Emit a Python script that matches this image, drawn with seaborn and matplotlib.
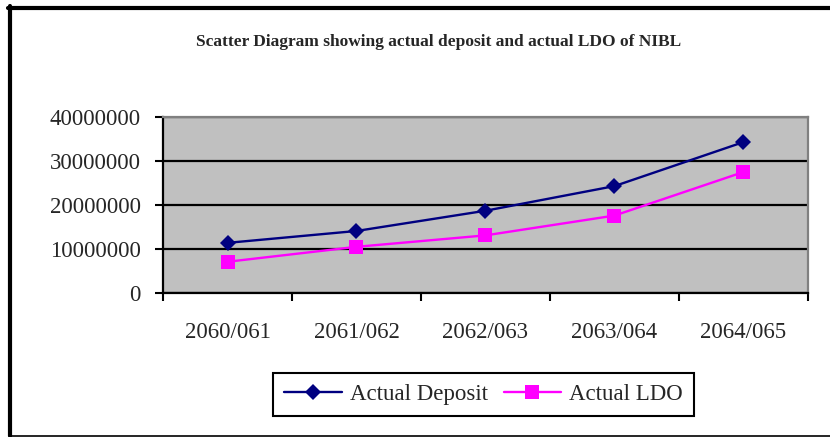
import matplotlib
matplotlib.use("Agg")
import matplotlib.pyplot as plt
from matplotlib.lines import Line2D
from matplotlib.ticker import FixedLocator, FuncFormatter
import seaborn as sns
import pandas as pd

years = ["2060/061", "2061/062", "2062/063", "2063/064", "2064/065"]
deposit = [11400000, 14100000, 18700000, 24300000, 34300000]
ldo = [7100000, 10500000, 13100000, 17600000, 27500000]
series_names = ["Actual Deposit", "Actual LDO"]
y_ticks = [0, 10000000, 20000000, 30000000, 40000000]
title = "Scatter Diagram showing actual deposit and actual LDO of NIBL"

sns.set_style("white")
plt.rcParams["font.family"] = ["Liberation Serif", "DejaVu Serif"]

df = pd.DataFrame({
    "Year": years * 2,
    "Value": deposit + ldo,
    "Series": [series_names[0]] * len(years) + [series_names[1]] * len(years),
})

fig = plt.figure(figsize=(8.3, 4.37), dpi=100)
ax = fig.add_axes([0.1964, 0.3295, 0.777, 0.4027])
ax.set_facecolor("#C0C0C0")

sns.lineplot(data=df, x="Year", y="Value", hue="Series", style="Series",
             markers={series_names[0]: "D", series_names[1]: "s"},
             dashes=False,
             palette={series_names[0]: "#000080", series_names[1]: "#FF00FF"},
             linewidth=1.7, markersize=8, markeredgewidth=0,
             sort=False, legend=False, ax=ax)

lines = ax.lines[:2]
lines[0].set_markersize(8.5)
lines[1].set_markersize(10.0)
for ln in lines:
    ln.set_zorder(5)

ax.set_xlim(-0.5, len(years) - 0.5)
ax.set_ylim(0, 40000000)
ax.set_xlabel("")
ax.set_ylabel("")

# x: labels centered, ticks at category boundaries
ax.xaxis.set_major_locator(FixedLocator(list(range(len(years)))))
ax.set_xticklabels(years)
ax.xaxis.set_minor_locator(FixedLocator([i - 0.5 for i in range(len(years) + 1)]))
ax.tick_params(axis="x", which="major", length=0, pad=21, labelsize=16.5)
ax.tick_params(axis="x", which="minor", length=6, width=1.5, direction="out",
               color="black", bottom=True)

ax.yaxis.set_major_locator(FixedLocator(y_ticks))
ax.yaxis.set_major_formatter(FuncFormatter(lambda v, p: f"{int(v)}"))
ax.tick_params(axis="y", which="major", length=6, width=1.5, direction="out",
               color="black", left=True, pad=10, labelsize=16.5)

ax.grid(axis="y", color="black", linewidth=1.6)
ax.grid(axis="x", visible=False)
ax.set_axisbelow(True)

for side in ["left", "bottom"]:
    ax.spines[side].set_color("black")
    ax.spines[side].set_linewidth(1.6)
    ax.spines[side].set_visible(True)
for side in ["top", "right"]:
    ax.spines[side].set_color("#808080")
    ax.spines[side].set_linewidth(1.6)
    ax.spines[side].set_visible(True)

fig.text(0.528, 0.904, title, ha="center", va="center",
         fontsize=12.5, fontweight="bold")

handles = [Line2D([], [], color=ln.get_color(), marker=ln.get_marker(),
                  markersize=ln.get_markersize(), markeredgewidth=0,
                  linewidth=1.7) for ln in lines]
leg = fig.legend(handles, series_names, loc="center", bbox_to_anchor=(0.5825, 0.0973),
                 ncol=2, fontsize=16.5, frameon=True, fancybox=False, shadow=False,
                 handlelength=2.5, handletextpad=0.35, columnspacing=0.7,
                 borderpad=0.5, edgecolor="black")
leg.get_frame().set_linewidth(1.5)
leg.get_frame().set_alpha(1)

# outer frame: thick top and left, thin bottom
fig.add_artist(Line2D([8 / 830, 1.0], [1 - 8 / 437, 1 - 8 / 437],
                      transform=fig.transFigure, color="black", linewidth=3.0))
fig.add_artist(Line2D([10 / 830, 10 / 830], [1 - 6 / 437, 1 - 436 / 437],
                      transform=fig.transFigure, color="black", linewidth=3.0))
fig.add_artist(Line2D([10 / 830, 1.0], [1 - 435.5 / 437, 1 - 435.5 / 437],
                      transform=fig.transFigure, color="black", linewidth=1.2))

fig.savefig("out.png", dpi=100)
